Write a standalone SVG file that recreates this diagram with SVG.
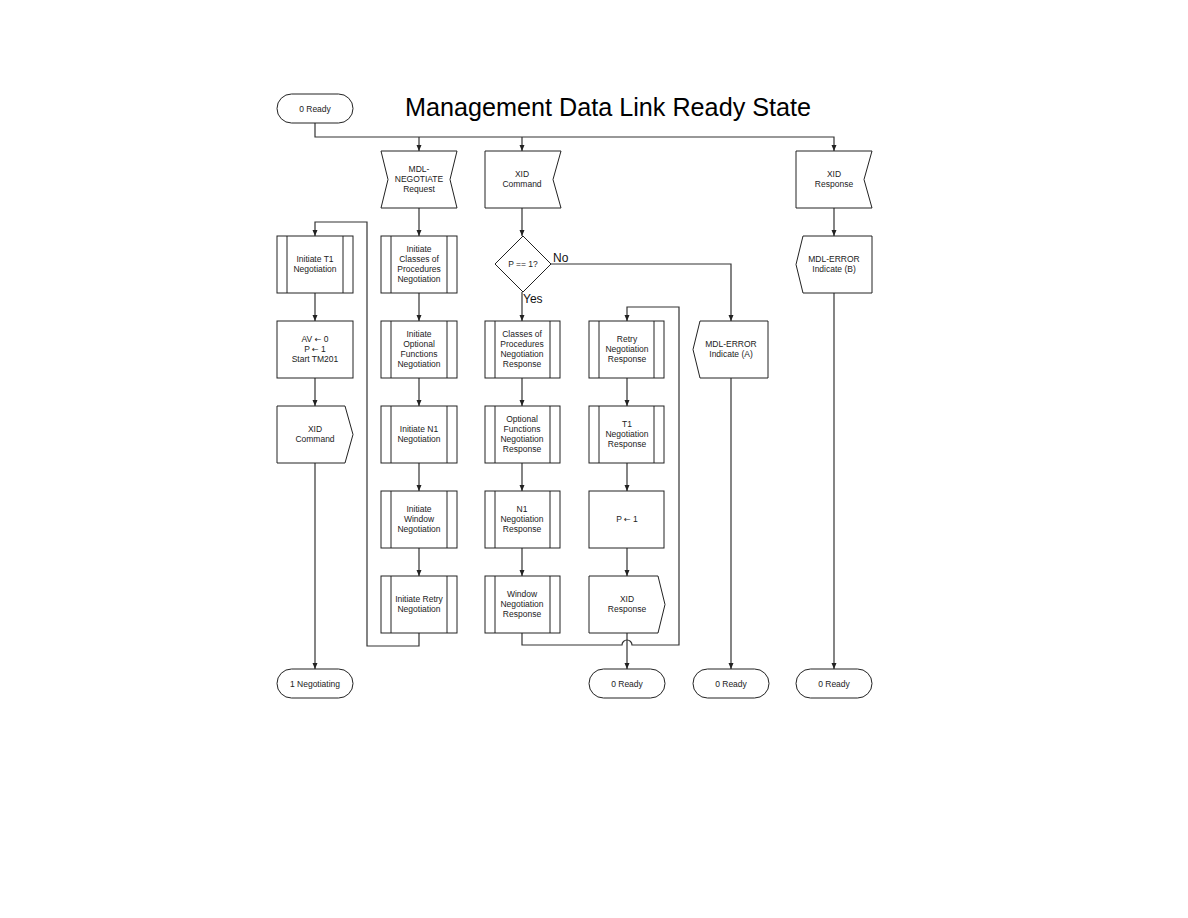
<svg xmlns="http://www.w3.org/2000/svg" width="1188" height="918" viewBox="0 0 1188 918">
<defs>
<marker id="arr" markerWidth="6" markerHeight="6" refX="6" refY="3" orient="auto" markerUnits="userSpaceOnUse">
<path d="M0,0.5 L6,3 L0,5.5 Z" fill="#222"/>
</marker>
<style>
.n{fill:#fff;stroke:#222;stroke-width:1}
.c{fill:none;stroke:#333;stroke-width:1.2}
.t{font-family:"Liberation Sans",Arial,sans-serif;font-size:8.5px;fill:#222;text-anchor:middle}
.a{font-family:"DejaVu Sans",sans-serif;font-size:8px}
.l{font-family:"Liberation Sans",Arial,sans-serif;font-size:12px;fill:#111}
.title{font-family:"Liberation Sans",Arial,sans-serif;font-size:25.2px;fill:#000}
</style>
</defs>
<rect width="1188" height="918" fill="#fff"/>
<text class="title" x="405" y="116">Management Data Link Ready State</text>

<g id="connectors">
<path class="c" d="M315,123 V137 H834 V151" marker-end="url(#arr)"/>
<path class="c" d="M419,137 V151" marker-end="url(#arr)"/>
<path class="c" d="M522,137 V151" marker-end="url(#arr)"/>
<path class="c" d="M419,633 V646 H367 V222 H315 V236" marker-end="url(#arr)"/>
<path class="c" d="M315,293 V321" marker-end="url(#arr)"/>
<path class="c" d="M315,377 V406" marker-end="url(#arr)"/>
<path class="c" d="M315,463 V669" marker-end="url(#arr)"/>
<path class="c" d="M419,208 V236" marker-end="url(#arr)"/>
<path class="c" d="M419,293 V321" marker-end="url(#arr)"/>
<path class="c" d="M419,377 V406" marker-end="url(#arr)"/>
<path class="c" d="M419,463 V491" marker-end="url(#arr)"/>
<path class="c" d="M419,547 V576" marker-end="url(#arr)"/>
<path class="c" d="M522,208 V236" marker-end="url(#arr)"/>
<path class="c" d="M522,292 V321" marker-end="url(#arr)"/>
<path class="c" d="M522,377 V406" marker-end="url(#arr)"/>
<path class="c" d="M522,463 V491" marker-end="url(#arr)"/>
<path class="c" d="M522,547 V576" marker-end="url(#arr)"/>
<path class="c" d="M522,633 V645 H622 A5,5 0 0 1 632,645 H679 V307 H627 V321" marker-end="url(#arr)"/>
<path class="c" d="M551,264 H731 V321" marker-end="url(#arr)"/>
<path class="c" d="M627,377 V406" marker-end="url(#arr)"/>
<path class="c" d="M627,463 V491" marker-end="url(#arr)"/>
<path class="c" d="M627,547 V576" marker-end="url(#arr)"/>
<path class="c" d="M627,633 V669" marker-end="url(#arr)"/>
<path class="c" d="M731,377 V669" marker-end="url(#arr)"/>
<path class="c" d="M834,208 V236" marker-end="url(#arr)"/>
<path class="c" d="M834,293 V669" marker-end="url(#arr)"/>
</g>
<text class="l" x="553" y="262">No</text>
<text class="l" x="523" y="303">Yes</text>

<g id="start-ready">
<rect class="n" x="277" y="94" width="76" height="29" rx="14.5"/>
<text class="t" x="315" y="111.5">0 Ready</text>
</g>

<g id="initiate-t1">
<rect class="n" x="277" y="236" width="76" height="57"/>
<path class="n" d="M287,236 V293 M343,236 V293"/>
<text class="t" x="315" y="262">Initiate T1</text>
<text class="t" x="315" y="272">Negotiation</text>
</g>
<g id="av-p">
<rect class="n" x="277" y="321" width="76" height="57"/>
<text class="t" x="315" y="342">AV <tspan class="a">←</tspan>  0</text>
<text class="t" x="315" y="352">P <tspan class="a">←</tspan>  1</text>
<text class="t" x="315" y="362">Start TM201</text>
</g>
<g id="xid-command-out">
<path class="n" d="M277,406 H345 L353,434.5 L345,463 H277 Z"/>
<text class="t" x="315" y="432">XID</text>
<text class="t" x="315" y="442">Command</text>
</g>
<g id="negotiating">
<rect class="n" x="277" y="669" width="76" height="29" rx="14.5"/>
<text class="t" x="315" y="686.5">1 Negotiating</text>
</g>

<g id="mdl-negotiate">
<path class="n" d="M381,151 H457 L450,179.5 L457,208 H381 L388,179.5 Z"/>
<text class="t" x="419" y="172">MDL-</text>
<text class="t" x="419" y="182">NEGOTIATE</text>
<text class="t" x="419" y="192">Request</text>
</g>
<g id="init-cop">
<rect class="n" x="381" y="236" width="76" height="57"/>
<path class="n" d="M391,236 V293 M447,236 V293"/>
<text class="t" x="419" y="252">Initiate</text>
<text class="t" x="419" y="262">Classes of</text>
<text class="t" x="419" y="272">Procedures</text>
<text class="t" x="419" y="282">Negotiation</text>
</g>
<g id="init-of">
<rect class="n" x="381" y="321" width="76" height="57"/>
<path class="n" d="M391,321 V378 M447,321 V378"/>
<text class="t" x="419" y="337">Initiate</text>
<text class="t" x="419" y="347">Optional</text>
<text class="t" x="419" y="357">Functions</text>
<text class="t" x="419" y="367">Negotiation</text>
</g>
<g id="init-n1">
<rect class="n" x="381" y="406" width="76" height="57"/>
<path class="n" d="M391,406 V463 M447,406 V463"/>
<text class="t" x="419" y="432">Initiate N1</text>
<text class="t" x="419" y="442">Negotiation</text>
</g>
<g id="init-window">
<rect class="n" x="381" y="491" width="76" height="57"/>
<path class="n" d="M391,491 V548 M447,491 V548"/>
<text class="t" x="419" y="512">Initiate</text>
<text class="t" x="419" y="522">Window</text>
<text class="t" x="419" y="532">Negotiation</text>
</g>
<g id="init-retry">
<rect class="n" x="381" y="576" width="76" height="57"/>
<path class="n" d="M391,576 V633 M447,576 V633"/>
<text class="t" x="419" y="602">Initiate Retry</text>
<text class="t" x="419" y="612">Negotiation</text>
</g>

<g id="xid-command-in">
<path class="n" d="M485,151 H561 L553,179.5 L561,208 H485 Z"/>
<text class="t" x="522" y="177">XID</text>
<text class="t" x="522" y="187">Command</text>
</g>
<g id="decision">
<path class="n" d="M523,236 L551,264 L523,292 L495,264 Z"/>
<text class="t" x="523" y="267">P == 1?</text>
</g>
<g id="cop-resp">
<rect class="n" x="485" y="321" width="75" height="57"/>
<path class="n" d="M495,321 V378 M550,321 V378"/>
<text class="t" x="522" y="337">Classes of</text>
<text class="t" x="522" y="347">Procedures</text>
<text class="t" x="522" y="357">Negotiation</text>
<text class="t" x="522" y="367">Response</text>
</g>
<g id="of-resp">
<rect class="n" x="485" y="406" width="75" height="57"/>
<path class="n" d="M495,406 V463 M550,406 V463"/>
<text class="t" x="522" y="422">Optional</text>
<text class="t" x="522" y="432">Functions</text>
<text class="t" x="522" y="442">Negotiation</text>
<text class="t" x="522" y="452">Response</text>
</g>
<g id="n1-resp">
<rect class="n" x="485" y="491" width="75" height="57"/>
<path class="n" d="M495,491 V548 M550,491 V548"/>
<text class="t" x="522" y="512">N1</text>
<text class="t" x="522" y="522">Negotiation</text>
<text class="t" x="522" y="532">Response</text>
</g>
<g id="window-resp">
<rect class="n" x="485" y="576" width="75" height="57"/>
<path class="n" d="M495,576 V633 M550,576 V633"/>
<text class="t" x="522" y="597">Window</text>
<text class="t" x="522" y="607">Negotiation</text>
<text class="t" x="522" y="617">Response</text>
</g>

<g id="retry-resp">
<rect class="n" x="589" y="321" width="75" height="57"/>
<path class="n" d="M599,321 V378 M654,321 V378"/>
<text class="t" x="627" y="342">Retry</text>
<text class="t" x="627" y="352">Negotiation</text>
<text class="t" x="627" y="362">Response</text>
</g>
<g id="t1-resp">
<rect class="n" x="589" y="406" width="75" height="57"/>
<path class="n" d="M599,406 V463 M654,406 V463"/>
<text class="t" x="627" y="427">T1</text>
<text class="t" x="627" y="437">Negotiation</text>
<text class="t" x="627" y="447">Response</text>
</g>
<g id="p-set">
<rect class="n" x="589" y="491" width="75" height="57"/>
<text class="t" x="627" y="522">P <tspan class="a">←</tspan>  1</text>
</g>
<g id="xid-response-out">
<path class="n" d="M589,576 H658 L665,604.5 L658,633 H589 Z"/>
<text class="t" x="627" y="602">XID</text>
<text class="t" x="627" y="612">Response</text>
</g>
<g id="ready-2">
<rect class="n" x="589" y="669" width="76" height="29" rx="14.5"/>
<text class="t" x="627" y="686.5">0 Ready</text>
</g>

<g id="mdl-error-a">
<path class="n" d="M700,321 H768 V378 H700 L693,349.5 Z"/>
<text class="t" x="731" y="347">MDL-ERROR</text>
<text class="t" x="731" y="357">Indicate (A)</text>
</g>
<g id="ready-3">
<rect class="n" x="693" y="669" width="76" height="29" rx="14.5"/>
<text class="t" x="731" y="686.5">0 Ready</text>
</g>

<g id="xid-response-in">
<path class="n" d="M796,151 H872 L864,179.5 L872,208 H796 Z"/>
<text class="t" x="834" y="177">XID</text>
<text class="t" x="834" y="187">Response</text>
</g>
<g id="mdl-error-b">
<path class="n" d="M803,236 H872 V293 H803 L796,264.5 Z"/>
<text class="t" x="834" y="262">MDL-ERROR</text>
<text class="t" x="834" y="272">Indicate (B)</text>
</g>
<g id="ready-4">
<rect class="n" x="796" y="669" width="76" height="29" rx="14.5"/>
<text class="t" x="834" y="686.5">0 Ready</text>
</g>
</svg>
